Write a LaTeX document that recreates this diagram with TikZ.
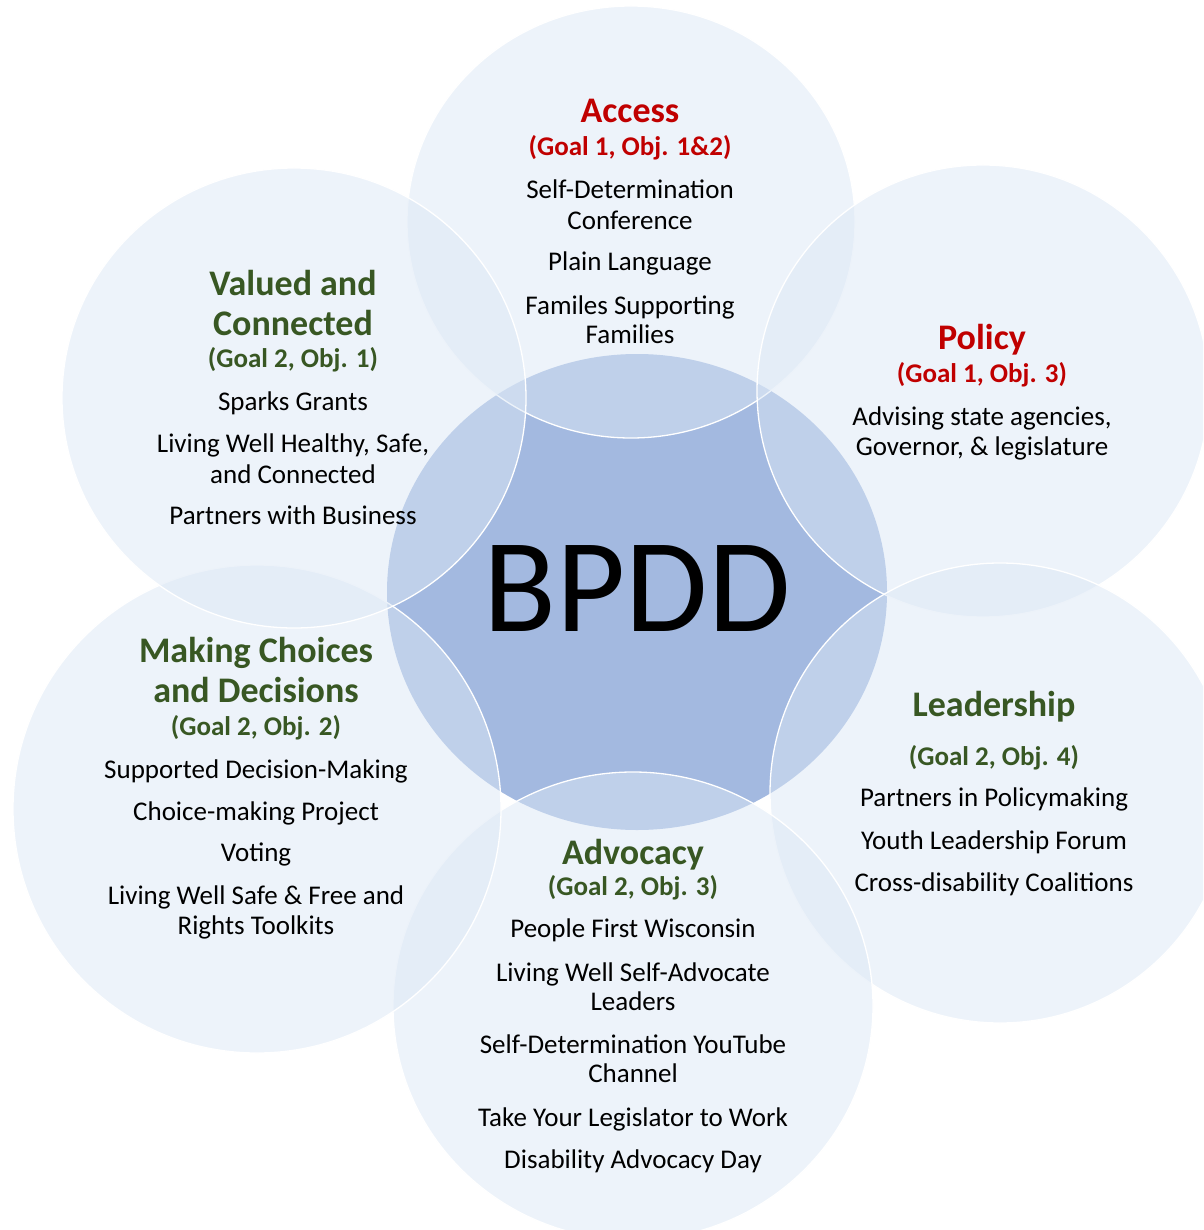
\documentclass[tikz,border=0pt]{standalone}
\usepackage{fontspec}
\setmainfont{Carlito}
\usetikzlibrary{shapes.geometric}
\definecolor{bub}{RGB}{219,231,245}
\definecolor{hub}{RGB}{163,185,224}
\definecolor{ttlred}{RGB}{192,0,0}
\definecolor{ttlgreen}{RGB}{56,87,35}
\begin{document}
\begin{tikzpicture}[x=1pt,y=-1pt,
  hubst/.style={ellipse, inner sep=0pt, fill=hub},
  bubble/.style={ellipse, inner sep=0pt, fill=bub, fill opacity=0.5, draw=white, line width=1.3pt},
  ttl/.style={anchor=base, inner sep=0pt, font=\fontsize{36}{40}\selectfont\bfseries},
  gl/.style={anchor=base, inner sep=0pt, font=\fontsize{27}{31}\selectfont\bfseries},
  bd/.style={anchor=base, inner sep=0pt, font=\fontsize{27}{31}\selectfont, text=black},
  red/.style={text=ttlred},
  grn/.style={text=ttlgreen}
]
\path[use as bounding box] (0,0) rectangle (1203,1230);
\begin{scope}
\clip (0,0) rectangle (1203,1230);
\node[hubst, minimum width=500pt, minimum height=476pt] (hub) at (637,592) {};
\node[bubble, minimum width=448pt, minimum height=432pt] (access) at (631,222) {};
\node[bubble, minimum width=452pt, minimum height=452pt] (policy) at (983,391) {};
\node[bubble, minimum width=460pt, minimum height=460pt] (leader) at (1000,793) {};
\node[bubble, minimum width=480pt, minimum height=468pt] (advoc) at (633,1006) {};
\node[bubble, minimum width=488pt, minimum height=488pt] (making) at (257,809) {};
\node[bubble, minimum width=464pt, minimum height=460pt] (valued) at (294,398) {};
\end{scope}

\node[anchor=base, inner sep=0pt, font=\fontsize{134}{140}\selectfont] (bpdd) at (637,631.5) {BPDD};

% Access
\node[ttl, red] (acct) at (630,123) {Access};
\node[gl, red] (accg) at (630,156) {(Goal 1, Obj. 1\&2)};
\node[bd] (acc1a) at (630,198.5) {Self-Determination};
\node[bd] (acc1b) at (630,229.5) {Conference};
\node[bd] (acc2) at (630,271) {Plain Language};
\node[bd] (acc3a) at (630,314) {Familes Supporting};
\node[bd] (acc3b) at (630,343) {Families};

% Policy
\node[ttl, red] (polt) at (982,349) {Policy};
\node[gl, red] (polg) at (982,382) {(Goal 1, Obj. 3)};
\node[bd] (pol1a) at (982,425) {Advising state agencies,};
\node[bd] (pol1b) at (982,455) {Governor, \& legislature};

% Valued and Connected
\node[ttl, grn] (valt1) at (293,295.5) {Valued and};
\node[ttl, grn] (valt2) at (293,335.5) {Connected};
\node[gl, grn] (valg) at (293,367) {(Goal 2, Obj. 1)};
\node[bd] (val1) at (293,410.5) {Sparks Grants};
\node[bd] (val2a) at (293,452.5) {Living Well Healthy, Safe,};
\node[bd] (val2b) at (293,483.5) {and Connected};
\node[bd] (val3) at (293,524.5) {Partners with Business};

% Making Choices
\node[ttl, grn] (makt1) at (256,662.5) {Making Choices};
\node[ttl, grn] (makt2) at (256,702.5) {and Decisions};
\node[gl, grn] (makg) at (256,735) {(Goal 2, Obj. 2)};
\node[bd] (mak1) at (256,778.5) {Supported Decision-Making};
\node[bd] (mak2) at (256,820) {Choice-making Project};
\node[bd] (mak3) at (256,861.5) {Voting};
\node[bd] (mak4a) at (256,904) {Living Well Safe \& Free and};
\node[bd] (mak4b) at (256,934) {Rights Toolkits};

% Leadership
\node[ttl, grn] (leat) at (994,716) {Leadership};
\node[gl, grn] (leag) at (994,765) {(Goal 2, Obj. 4)};
\node[bd] (lea1) at (994,806) {Partners in Policymaking};
\node[bd] (lea2) at (994,849) {Youth Leadership Forum};
\node[bd] (lea3) at (994,891) {Cross-disability Coalitions};

% Advocacy
\node[ttl, grn] (advt) at (633,864) {Advocacy};
\node[gl, grn] (advg) at (633,895.5) {(Goal 2, Obj. 3)};
\node[bd] (adv1) at (633,937.5) {People First Wisconsin};
\node[bd] (adv2a) at (633,981) {Living Well Self-Advocate};
\node[bd] (adv2b) at (633,1010) {Leaders};
\node[bd] (adv3a) at (633,1053) {Self-Determination YouTube};
\node[bd] (adv3b) at (633,1082.5) {Channel};
\node[bd] (adv4) at (633,1126) {Take Your Legislator to Work};
\node[bd] (adv5) at (633,1168) {Disability Advocacy Day};
\end{tikzpicture}
\end{document}
